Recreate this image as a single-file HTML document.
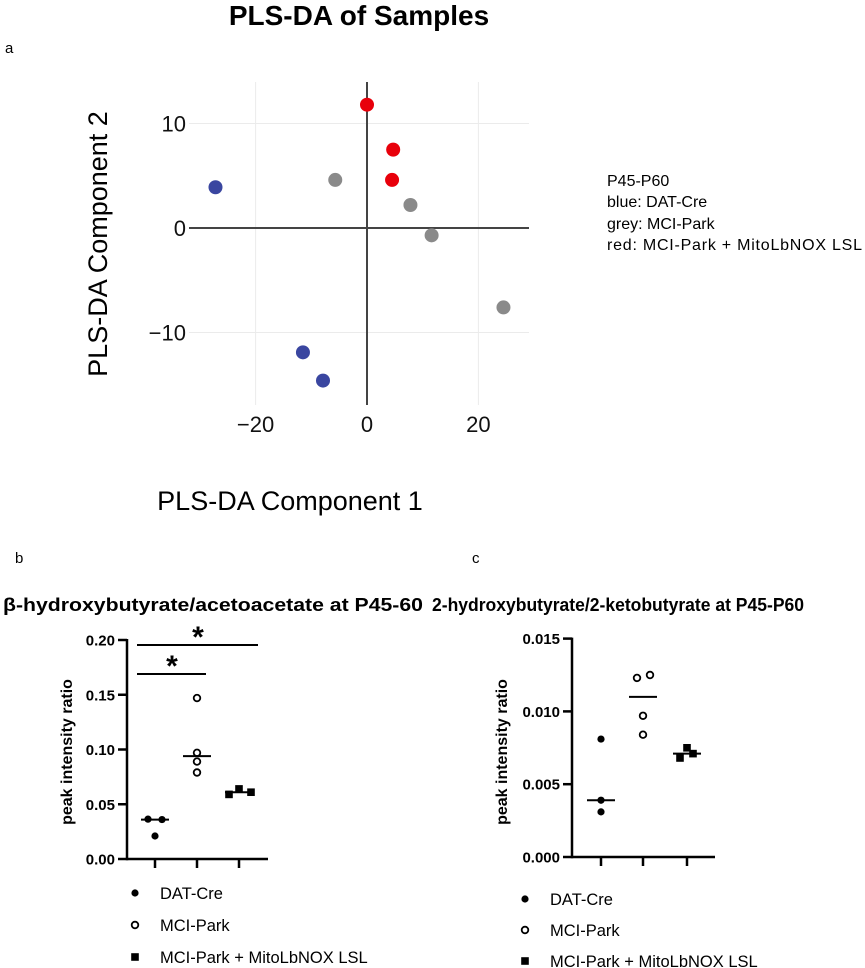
<!DOCTYPE html>
<html><head><meta charset="utf-8"><style>
html,body{margin:0;padding:0;background:#fff;}
svg{display:block;font-family:"Liberation Sans",Arial,sans-serif;}
</style></head><body>
<svg id="fig" width="865" height="968" viewBox="0 0 865 968" xmlns="http://www.w3.org/2000/svg">
<text x="359" y="25" text-anchor="middle" font-size="28" font-weight="bold">PLS-DA of Samples</text>
<text x="5" y="53" font-size="15">a</text>
<text x="15" y="563" font-size="15">b</text>
<text x="472" y="563" font-size="15">c</text>
<g id="pa"></g>
<g font-size="16">
<text x="607" y="186">P45-P60</text>
<text x="607" y="207">blue: DAT-Cre</text>
<text x="607" y="229">grey: MCI-Park</text>
<text x="607" y="250" textLength="255">red: MCI-Park + MitoLbNOX LSL</text>
</g>
<g id="pb"></g>
<g id="pc"></g>
</svg>
<script>
// Panel a data
const blueX=[-27.2,-11.5,-7.9], blueY=[3.9,-11.9,-14.6];
const greyX=[-5.7,7.8,11.6,24.5], greyY=[4.6,2.2,-0.7,-7.6];
const redX=[0,4.7,4.5], redY=[11.8,7.5,4.6];
const aXTicks=[-20,0,20], aYTicks=[-10,0,10];
// Panel b data
const groups=["DAT-Cre","MCI-Park","MCI-Park + MitoLbNOX LSL"];
const bDat=[0.0364,0.036,0.021], bMci=[0.147,0.097,0.089,0.079], bMito=[0.059,0.064,0.061];
const bMed=[0.036,0.094,0.061];
const bTicks=["0.00","0.05","0.10","0.15","0.20"];
// Panel c data
const cDat=[0.0081,0.0039,0.0031], cMci=[0.0123,0.0125,0.0097,0.0084], cMito=[0.0068,0.0075,0.0071];
const cMed=[0.0039,0.011,0.0071];
const cTicks=["0.000","0.005","0.010","0.015"];

const NS="http://www.w3.org/2000/svg";
function mk(parent,tag,attrs,txt){const e=document.createElementNS(NS,tag);for(const k in attrs)e.setAttribute(k,attrs[k]);if(txt!==undefined)e.textContent=txt;parent.appendChild(e);return e;}

// ---- Panel a
(function(){
const g=document.getElementById('pa');
const sx=v=>367+v*5.57, sy=v=>228-v*10.45;
const L=189,R=529,T=82,B=405;
aXTicks.forEach(t=>{if(t!==0){const l=mk(g,'line',{x1:sx(t),x2:sx(t),y1:T,y2:B,stroke:'#ebebeb','stroke-width':1});

}
const tx=mk(g,'text',{x:sx(t),y:432,'text-anchor':'middle','font-size':22,fill:'#111'},t<0?'\u2212'+(-t):String(t));

});
aYTicks.forEach(t=>{if(t!==0){const l=mk(g,'line',{x1:L,x2:R,y1:sy(t),y2:sy(t),stroke:'#ebebeb','stroke-width':1});

}
const tx=mk(g,'text',{x:186,y:sy(t)+8,'text-anchor':'end','font-size':22,fill:'#111'},t<0?'\u2212'+(-t):String(t));

});
const vx=mk(g,'line',{x1:sx(0),x2:sx(0),y1:T,y2:B,stroke:'#444','stroke-width':2});


const hx=mk(g,'line',{x1:L,x2:R,y1:sy(0),y2:sy(0),stroke:'#444','stroke-width':2});


[[blueX,blueY,'#3a46a0','blue'],[greyX,greyY,'#8a8a8a','grey'],[redX,redY,'#e8000b','red']].forEach(([X,Y,c,n])=>{
X.forEach((x,i)=>{const p=mk(g,'circle',{cx:sx(x),cy:sy(Y[i]),r:7,fill:c});

});});
const yt=mk(g,'text',{x:0,y:0,transform:'translate(107,244) rotate(-90)','text-anchor':'middle','font-size':27},'PLS-DA Component 2');


const xt=mk(g,'text',{x:290,y:510,'text-anchor':'middle','font-size':27},'PLS-DA Component 1');


})();

// ---- dot plots
function dotPlot(gid,o){
const g=document.getElementById(gid);
const sy=v=>o.y0-v*o.k;
const t=mk(g,'text',{x:o.tx,y:611,'font-size':18,'font-weight':'bold',textLength:o.tlen,lengthAdjust:'spacingAndGlyphs'},o.title);


o.ticks.forEach(s=>{const v=parseFloat(s);
const tl=mk(g,'line',{x1:o.ax-9,x2:o.ax,y1:sy(v),y2:sy(v),stroke:'#000','stroke-width':2.5});


const tx=mk(g,'text',{x:o.ax-12,y:sy(v)+5.5,'text-anchor':'end','font-size':15,'font-weight':'bold'},s);

});
const ya=mk(g,'line',{x1:o.ax,x2:o.ax,y1:sy(parseFloat(o.ticks[o.ticks.length-1]))-1,y2:o.y0+1.2,stroke:'#000','stroke-width':2.5});


const xa=mk(g,'line',{x1:o.ax,x2:o.xend,y1:o.y0,y2:o.y0,stroke:'#000','stroke-width':2.5});


o.gx.forEach(x=>{const l=mk(g,'line',{x1:x,x2:x,y1:o.y0,y2:o.y0+9,stroke:'#000','stroke-width':2.5});

});
const yl=mk(g,'text',{x:0,y:0,transform:'translate('+o.ylx+',752) rotate(-90)','text-anchor':'middle','font-size':16,'font-weight':'bold'},'peak intensity ratio');


o.dat.forEach((v,i)=>{const c=mk(g,'circle',{cx:o.gx[0]+o.off[0][i],cy:sy(v),r:3.6,fill:'#000'});

});
o.mci.forEach((v,i)=>{const c=mk(g,'circle',{cx:o.gx[1]+o.off[1][i],cy:sy(v),r:3.3,fill:'#fff',stroke:'#000','stroke-width':1.8});

});
o.mito.forEach((v,i)=>{const c=mk(g,'rect',{x:o.gx[2]+o.off[2][i]-3.8,y:sy(v)-3.8,width:7.6,height:7.6,fill:'#000'});

});
o.med.forEach((v,i)=>{const l=mk(g,'line',{x1:o.gx[i]-14,x2:o.gx[i]+14,y1:sy(v),y2:sy(v),stroke:'#000','stroke-width':2});

});
groups.forEach((name,i)=>{const y=o.ly[i];
let m;
if(i===0)m=mk(g,'circle',{cx:o.lmx,cy:y,r:3.6,fill:'#000'});
else if(i===1)m=mk(g,'circle',{cx:o.lmx,cy:y,r:3.3,fill:'#fff',stroke:'#000','stroke-width':1.8});
else m=mk(g,'rect',{x:o.lmx-3.8,y:y-3.8,width:7.6,height:7.6,fill:'#000'});


const tx=mk(g,'text',{x:o.ltx,y:y+6,'font-size':16.5},name);

});
return {g,sy};
}
const b=dotPlot('pb',{title:'\u03b2-hydroxybutyrate/acetoacetate at P45-60',tx:3,tlen:420,ax:127,y0:859,k:1095,xend:268,
 gx:[155,197,239],ticks:bTicks,dat:bDat,mci:bMci,mito:bMito,med:bMed,ylx:72,
 off:[[-7,7,0],[0,0,0,0],[-10,0,12]],ly:[893,925,957],lmx:135,ltx:160});
[[137,206,674,172,676],[137,258,645,198,647]].forEach(([x1,x2,y,sx,sy2])=>{
const l=mk(b.g,'line',{x1:x1,x2:x2,y1:y,y2:y,stroke:'#000','stroke-width':2});


const s=mk(b.g,'text',{x:sx,y:sy2,'text-anchor':'middle','font-size':30,'font-weight':'bold'},'*');

});
dotPlot('pc',{title:'2-hydroxybutyrate/2-ketobutyrate at P45-P60',tx:432,tlen:372,ax:572,y0:857,k:14560,xend:715,
 gx:[601,643,687],ticks:cTicks,dat:cDat,mci:cMci,mito:cMito,med:cMed,ylx:507,
 off:[[0,0,0],[-6,7,0,0],[-7,0,6]],ly:[899,930,961],lmx:525,ltx:550});
</script>
</body></html>
